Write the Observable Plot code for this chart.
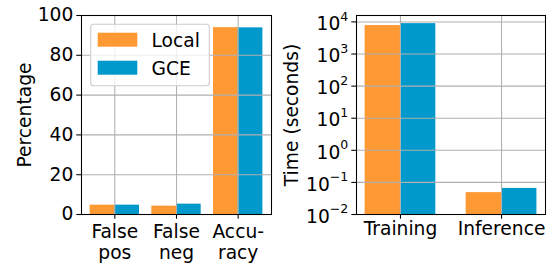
<!DOCTYPE html>
<html>
<head>
<meta charset="utf-8">
<script src="https://cdn.jsdelivr.net/npm/d3@7"></script>
<script src="https://cdn.jsdelivr.net/npm/@observablehq/plot@0.6"></script>
<style>
  html, body { margin: 0; padding: 0; background: #fff; }
  #wrap { position: relative; width: 554px; height: 264px; display: flex; flex-direction: row; font-family: "DejaVu Sans", sans-serif; }
  #legend { position: absolute; left: 0; top: 0; pointer-events: none; }
</style>
</head>
<body>
<div id="wrap"></div>
<script>
// ---- data ----
const series = ["Local", "GCE"];
const seriesColors = ["#ff9933", "#0099cc"];

const accCategories = ["False\npos", "False\nneg", "Accu-\nracy"];
const accLocal = [4.7, 4.2, 93.9];
const accGCE = [4.7, 5.2, 93.8];
const accTicks = [0, 20, 40, 60, 80, 100];

const timeCategories = ["Training", "Inference"];
const timeLocal = [7700, 0.048];
const timeGCE = [8850, 0.065];
const timeTicks = [1e-2, 1e-1, 1e0, 1e1, 1e2, 1e3, 1e4];
const timeTickExponents = ["\u22122", "\u22121", "0", "1", "2", "3", "4"];

// ---- build tables ----
function table(cats, a, b) {
  const rows = [];
  cats.forEach((c, i) => {
    rows.push({i, s: 0, series: series[0], value: a[i]});
    rows.push({i, s: 1, series: series[1], value: b[i]});
  });
  return rows;
}
const accRows = table(accCategories, accLocal, accGCE);
const timeRows = table(timeCategories, timeLocal, timeGCE);

const FS = 18.67;
const gridStyle = {stroke: "#b0b0b0", strokeOpacity: 1, strokeWidth: 1.07};
const style = {fontFamily: "DejaVu Sans, sans-serif", fontSize: FS + "px", background: "white", color: "black", overflow: "visible"};

// ---- left chart ----
const wA = 0.4;
const accDomainY = [0, 100];
const left = Plot.plot({
  width: 277, height: 264,
  marginLeft: 81, marginRight: 6, marginTop: 15, marginBottom: 50,
  style,
  x: {type: "linear", domain: [-0.54, 2.54]},
  y: {type: "linear", domain: accDomainY},
  color: {domain: series, range: seriesColors},
  marks: [
    Plot.rect(accRows, {
      x1: d => d.i + (d.s - 1) * wA, x2: d => d.i + d.s * wA,
      y1: () => accDomainY[0], y2: "value", fill: "series"
    }),
    Plot.gridY(accTicks, gridStyle),
    Plot.gridX(accCategories.map((c, i) => i), gridStyle),
    Plot.frame({stroke: "black", strokeWidth: 1.07}),
    Plot.axisY(accTicks, {label: null, tickSize: 4.7, tickPadding: 3.5, strokeWidth: 1.07, fontSize: FS}),
    Plot.axisX(accCategories.map((c, i) => i), {label: null, tickSize: 4.7, tickPadding: 3, strokeWidth: 1.07,
      tickFormat: i => accCategories[i], lineHeight: 1.16, fontSize: FS}),
    Plot.text(["Percentage"], {frameAnchor: "left", dx: -56, rotate: -90, fontSize: FS, textAnchor: "middle", lineAnchor: "middle"})
  ]
});

// ---- right chart ----
const wB = 0.35;
const timeDomainY = [1e-2, Math.pow(10, 4.2)];
const right = Plot.plot({
  width: 277, height: 264,
  marginLeft: 79, marginRight: 9, marginTop: 15, marginBottom: 50,
  style,
  x: {type: "linear", domain: [-0.435, 1.435]},
  y: {type: "log", domain: timeDomainY},
  color: {domain: series, range: seriesColors},
  marks: [
    Plot.rect(timeRows, {
      x1: d => d.i + (d.s - 1) * wB, x2: d => d.i + d.s * wB,
      y1: () => timeDomainY[0], y2: "value", fill: "series"
    }),
    Plot.gridY(timeTicks, gridStyle),
    Plot.gridX(timeCategories.map((c, i) => i), gridStyle),
    Plot.frame({stroke: "black", strokeWidth: 1.07}),
    Plot.axisY(timeTicks, {label: null, tickSize: 4.7, tickPadding: 3.5, strokeWidth: 1.07, fontSize: FS,
      tickFormat: v => "10^" + timeTickExponents[timeTicks.indexOf(v)]}),
    Plot.axisX(timeCategories.map((c, i) => i), {label: null, tickSize: 4.7, tickPadding: 3, strokeWidth: 1.07,
      tickFormat: i => timeCategories[i], fontSize: FS}),
    Plot.text(["Time (seconds)"], {frameAnchor: "left", dx: -64.5, rotate: -90, fontSize: FS, textAnchor: "middle", lineAnchor: "middle"})
  ]
});

// render exponents as raised, smaller text (like mathtext superscripts)
d3.select(right).selectAll("text").each(function () {
  const el = d3.select(this);
  const s = el.text();
  const m = /^10\^(.+)$/.exec(s);
  if (!m) return;
  el.text(null);
  el.append("tspan").attr("dy", "2.3").text("10");
  el.append("tspan").attr("font-size", "12.5px").attr("dy", "-9.3").text(m[1]);
});

const wrap = document.getElementById("wrap");
wrap.appendChild(left);
wrap.appendChild(right);

// ---- legend (overlay on the left panel) ----
const ns = "http://www.w3.org/2000/svg";
const lg = document.createElementNS(ns, "svg");
lg.setAttribute("id", "legend");
lg.setAttribute("width", 554);
lg.setAttribute("height", 264);
const box = document.createElementNS(ns, "rect");
box.setAttribute("x", 90.7); box.setAttribute("y", 24.3);
box.setAttribute("width", 118.6); box.setAttribute("height", 61.4);
box.setAttribute("rx", 3); box.setAttribute("fill", "white"); box.setAttribute("fill-opacity", 0.8);
box.setAttribute("stroke", "#cccccc"); box.setAttribute("stroke-width", 1.07);
lg.appendChild(box);
series.forEach((s, k) => {
  const top = 32.7 + k * 28;
  const r = document.createElementNS(ns, "rect");
  r.setAttribute("x", 97.7); r.setAttribute("y", top);
  r.setAttribute("width", 39.6); r.setAttribute("height", 14);
  r.setAttribute("fill", seriesColors[k]);
  lg.appendChild(r);
  const t = document.createElementNS(ns, "text");
  t.setAttribute("x", 151.5); t.setAttribute("y", top + 14);
  t.setAttribute("font-family", "DejaVu Sans, sans-serif");
  t.setAttribute("font-size", FS);
  t.textContent = s;
  lg.appendChild(t);
});
wrap.appendChild(lg);
</script>
</body>
</html>
